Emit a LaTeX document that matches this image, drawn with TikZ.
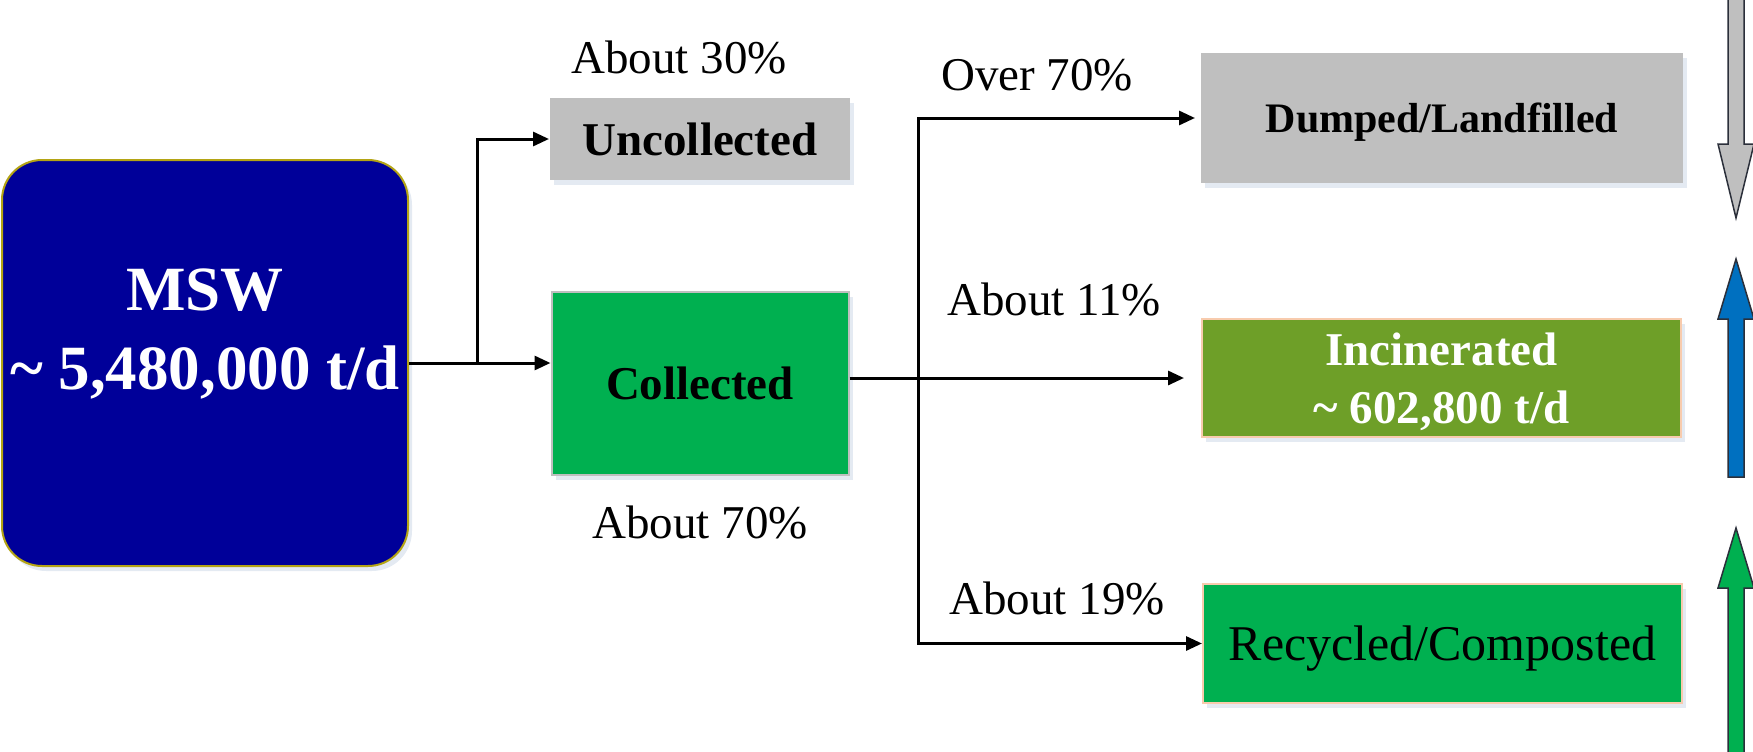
\documentclass[tikz,border=0pt]{standalone}
\usepackage{fontspec}
\setmainfont{Liberation Serif}
\usetikzlibrary{positioning,arrows.meta,shadows}
\definecolor{mswblue}{HTML}{000099}
\definecolor{mswedge}{HTML}{B4A414}
\definecolor{boxgray}{HTML}{BFBFBF}
\definecolor{boxgreen}{HTML}{00B050}
\definecolor{boxolive}{HTML}{6E9F28}
\definecolor{peach}{HTML}{F8CBAD}
\definecolor{arrowblue}{HTML}{0070C0}
\definecolor{arrowedge}{HTML}{2B2F3A}
\definecolor{shade}{HTML}{D2DCEA}
\tikzset{
box/.style={rectangle, inner sep=0pt, line width=2pt, align=center, text depth=0pt,
  drop shadow={shadow xshift=4pt, shadow yshift=-5pt, fill=shade, opacity=.6}},
flow/.style={line width=3pt, -{Triangle[length=16pt,width=14pt]}},
pct/.style={inner sep=0pt, font=\fontsize{47}{56}\selectfont},
bigarrow/.style={line width=1.5pt, draw=arrowedge, line join=miter}
}

\begin{document}
\begin{tikzpicture}[x=1pt,y=-1pt]
\useasboundingbox (0,0) rectangle (1753,752);
% boxes
\node[box, fill=mswblue, draw=mswedge, rounded corners=40pt, minimum width=406pt, minimum height=406pt] (MSW) at (205,363) {};
\node[text=white, align=center, font=\fontsize{63}{79}\selectfont\bfseries] (MSWt) at (205,334) {MSW\\\textasciitilde\ 5,480,000 t/d};
\node[box, fill=boxgray, minimum width=300pt, minimum height=82pt, font=\fontsize{47}{56}\selectfont\bfseries] (Unc) at (700,139) {Uncollected};
\node[box, fill=boxgreen, draw=boxgray, minimum width=297pt, minimum height=183pt, font=\fontsize{47}{56}\selectfont\bfseries] (Col) at (700,383.5) {Collected};
\node[box, fill=boxgray, minimum width=482pt, minimum height=130pt, font=\fontsize{42}{50}\selectfont\bfseries] (Dump) at (1442,118) {Dumped/Landfilled};
\node[box, fill=boxolive, draw=peach, text=white, minimum width=479pt, minimum height=118pt, font=\fontsize{47}{58}\selectfont\bfseries] (Inc) at (1441.5,378) {Incinerated\\\textasciitilde\ 602,800 t/d};
\node[box, fill=boxgreen, draw=peach, minimum width=479pt, minimum height=119pt, font=\fontsize{50}{60}\selectfont] (Rec) at (1442.5,643.5) {Recycled/Composted};
% shares
\node[pct] (p30) at (679,58) {About 30\%};
\node[pct, below=30pt of Col] (p70) {About 70\%};
\node[pct] (p70o) at (1037,75) {Over 70\%};
\node[pct] (p11) at (1054,300) {About 11\%};
\node[pct] (p19) at (1057,598) {About 19\%};
% connectors
\coordinate (s1) at ([xshift=68pt]MSW.east);
\coordinate (s2) at (918,378);
\draw[flow] (MSW.east) -- (MSW.east -| Col.west);
\draw[flow] (s1) |- (Unc.west);
\draw[flow] (Col.east |- Inc.west) -- ([xshift=-17pt]Inc.west);
\draw[flow] (s2) |- ([xshift=-5pt]Dump.west);
\draw[flow] (s2) |- (Rec.west);
% trend arrows on the right edge
\begin{scope}
\clip (0,0) rectangle (1753,752);
\draw[bigarrow, fill=boxgray] (1728,-5) -- (1728,144) -- (1718,144) -- (1736,218) -- (1754,144) -- (1744,144) -- (1744,-5) -- cycle;
\draw[bigarrow, fill=arrowblue] (1728,477) -- (1728,319) -- (1718,319) -- (1736,259) -- (1754,319) -- (1744,319) -- (1744,477) -- cycle;
\draw[bigarrow, fill=boxgreen] (1728,760) -- (1728,588) -- (1718,588) -- (1736,528) -- (1754,588) -- (1744,588) -- (1744,760) -- cycle;
\end{scope}
\end{tikzpicture}
\end{document}
